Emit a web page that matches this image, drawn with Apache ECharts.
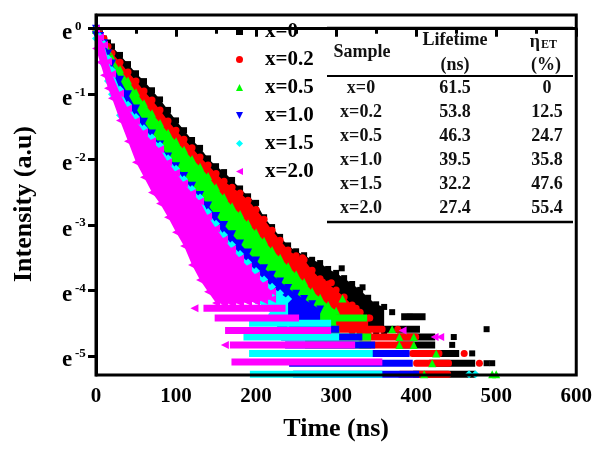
<!DOCTYPE html>
<html><head><meta charset="utf-8">
<script src="https://cdn.jsdelivr.net/npm/echarts@6/dist/echarts.min.js"></script>
<style>html,body{margin:0;padding:0;background:#fff}#c{width:595px;height:450px}</style>
</head><body><div id="c"></div><script>
// ---- time grid (ns) on which the cloud edges were read ----
const T = [0,5,10,15,20,30,40,50,60,70,80,90,100,110,120,130,140,150,160,170,180,190,200,210,220,230,240,250,260,270,280,290,300,310,320,330,340,350,360];

// ---- upper / lower edges of each decay cloud, ln(I) ----
const x0Upper  = [0,-0.07,-0.15,-0.21,-0.27,-0.40,-0.54,-0.68,-0.80,-0.94,-1.08,-1.24,-1.40,-1.55,-1.70,-1.82,-1.98,-2.10,-2.19,-2.31,-2.44,-2.56,-2.66,-2.88,-3.03,-3.18,-3.31,-3.40,-3.46,-3.53,-3.58,-3.67,-3.73,-3.81,-3.90,-3.99,-4.11,-4.21,-4.25];
const x0Lower  = [-0.02,-0.12,-0.28,-0.40,-0.50,-0.66,-0.82,-0.97,-1.12,-1.27,-1.42,-1.58,-1.72,-1.86,-1.99,-2.13,-2.26,-2.39,-2.51,-2.61,-2.71,-2.82,-2.96,-3.11,-3.27,-3.42,-3.57,-3.66,-3.74,-3.89,-4.01,-4.10,-4.19,-4.30,-4.41,-4.50,-4.58,-4.62,-4.64];
const x02Upper = [0,-0.08,-0.15,-0.27,-0.37,-0.51,-0.66,-0.80,-0.95,-1.09,-1.24,-1.41,-1.55,-1.69,-1.82,-1.96,-2.08,-2.21,-2.33,-2.42,-2.51,-2.62,-2.76,-2.91,-3.08,-3.23,-3.38,-3.47,-3.53,-3.69,-3.82,-3.90,-3.99,-4.10,-4.22,-4.33,-4.42];
const x02Lower = [-0.02,-0.14,-0.32,-0.48,-0.60,-0.80,-0.98,-1.16,-1.33,-1.49,-1.64,-1.79,-1.93,-2.06,-2.20,-2.33,-2.47,-2.64,-2.79,-2.93,-3.06,-3.20,-3.34,-3.47,-3.61,-3.73,-3.86,-3.98,-4.10,-4.23,-4.33,-4.43,-4.52,-4.58,-4.62,-4.65,-4.67];
const x05Upper = [0,-0.10,-0.21,-0.33,-0.44,-0.62,-0.79,-0.97,-1.14,-1.29,-1.44,-1.59,-1.72,-1.85,-1.99,-2.11,-2.25,-2.42,-2.57,-2.71,-2.83,-2.97,-3.11,-3.24,-3.38,-3.50,-3.63,-3.75,-3.87,-4.01,-4.11,-4.22,-4.31];
const x05Lower = [-0.02,-0.15,-0.38,-0.55,-0.70,-0.94,-1.15,-1.36,-1.55,-1.74,-1.93,-2.09,-2.24,-2.39,-2.54,-2.68,-2.82,-2.96,-3.10,-3.24,-3.38,-3.52,-3.64,-3.76,-3.88,-3.98,-4.09,-4.19,-4.29,-4.38,-4.46,-4.53,-4.58];
const x10Upper = [0,-0.11,-0.22,-0.38,-0.53,-0.78,-1.00,-1.22,-1.42,-1.60,-1.77,-1.95,-2.10,-2.25,-2.40,-2.54,-2.70,-2.86,-3.00,-3.14,-3.28,-3.42,-3.54,-3.66,-3.76,-3.86,-3.96,-4.05,-4.13,-4.21,-4.29];
const x10Lower = [-0.10,-0.12,-0.35,-0.62,-0.84,-1.16,-1.40,-1.60,-1.77,-1.92,-2.04,-2.25,-2.42,-2.58,-2.74,-2.88,-3.10,-3.28,-3.45,-3.59,-3.73,-3.86,-3.98,-4.10,-4.22,-4.31,-4.38,-4.44,-4.50,-4.55,-4.58];
const x15Upper = [0,-0.12,-0.23,-0.45,-0.63,-0.93,-1.16,-1.35,-1.52,-1.66,-1.78,-1.98,-2.14,-2.30,-2.45,-2.58,-2.80,-2.98,-3.15,-3.30,-3.44,-3.57,-3.70,-3.83,-3.94,-4.04,-4.13];
const x15Lower = [-0.15,-0.25,-0.55,-0.80,-1.00,-1.32,-1.56,-1.76,-1.93,-2.08,-2.20,-2.42,-2.58,-2.74,-2.90,-3.03,-3.27,-3.45,-3.62,-3.76,-3.90,-4.03,-4.15,-4.26,-4.36,-4.44,-4.50];
const x20Upper = [0,-0.13,-0.25,-0.50,-0.69,-0.99,-1.22,-1.41,-1.58,-1.72,-1.84,-2.04,-2.20,-2.36,-2.51,-2.64,-2.87,-3.05,-3.22,-3.37,-3.51,-3.64,-3.77,-3.90,-4.02];
const x20Lower = [-0.30,-0.51,-0.71,-0.91,-1.06,-1.40,-1.72,-2.04,-2.27,-2.50,-2.67,-2.88,-3.11,-3.32,-3.61,-3.84,-4.02,-4.19,-4.20,-4.20,-4.19,-4.18,-4.17,-4.15,-4.13];

// ---- low-count tail rows: [ln(I), t start, t end] ----
const x0Rows  = [[-4.40,385,408],[-4.59,360,401],[-4.71,380,420],[-4.83,380,420],[-4.96,400,450],[-5.11,420,470],[-5.28,400,470]];
const x02Rows = [[-4.59,290,358],[-4.71,330,400],[-4.83,330,395],[-4.96,395,429],[-5.11,400,441],[-5.28,380,440]];
const x05Rows = [[-4.42,265,335],[-4.59,255,300],[-4.71,265,340],[-4.83,265,340]];
const x10Rows = [[-4.59,230,300],[-4.71,235,329],[-4.83,240,345],[-4.96,240,388],[-5.11,245,392],[-5.28,250,400]];
const x15Rows = [[-4.50,195,290],[-4.71,188,300],[-4.96,195,342],[-5.28,196,354]];
const x20Rows = [[-4.27,138,233],[-4.42,152,250],[-4.61,165,290],[-4.83,171,320],[-5.09,173,354]];

// ---- isolated points: [t, ln(I)] ----
const x0Extra  = [[307,-3.66],[333,-3.95],[370,-4.33],[392,-4.40],[447,-4.71],[445,-4.83],[470,-4.96],[488,-4.59],[488,-5.11],[495,-5.11]];
const x02Extra = [[258,-3.50],[283,-3.87],[294,-3.88],[325,-4.27],[342,-4.42],[377,-4.59],[460,-4.96],[479,-5.11]];
const x05Extra = [[308,-4.12],[370,-4.59],[379,-4.71],[397,-4.71],[379,-4.83],[397,-4.83],[425,-4.96],[420,-5.11],[410,-5.28],[495,-5.28],[500,-5.28]];
const x10Extra = [];
const x15Extra = [[466,-5.28],[474,-5.28]];
const x20Extra = [[123,-4.27],[161,-4.83],[383,-4.61],[423,-4.71],[430,-4.71]];

// ---- table ----
const tableSample   = ['x=0','x=0.2','x=0.5','x=1.0','x=1.5','x=2.0'];
const tableLifetime = ['61.5','53.8','46.3','39.5','32.2','27.4'];
const tableEta      = ['0','12.5','24.7','35.8','47.6','55.4'];

// ---- axis ticks ----
const xTicks = [0,100,200,300,400,500,600];
const yTickPowers = [0,-1,-2,-3,-4,-5];

const FONT = '"Liberation Serif","Times New Roman",serif';
const groups = [
  {name:tableSample[0], color:'#000000', symbol:'rect', size:6, rot:0, up:x0Upper, lo:x0Lower, rows:x0Rows, extra:x0Extra, icon:'rect', r:0},
  {name:tableSample[1], color:'#ff0000', symbol:'circle', size:7, rot:0, up:x02Upper, lo:x02Lower, rows:x02Rows, extra:x02Extra, icon:'circle', r:3},
  {name:tableSample[2], color:'#00ff00', symbol:'triangle', size:8, rot:0, up:x05Upper, lo:x05Lower, rows:x05Rows, extra:x05Extra, icon:'triangle', r:0},
  {name:tableSample[3], color:'#0000ff', symbol:'triangle', size:8, rot:180, up:x10Upper, lo:x10Lower, rows:x10Rows, extra:x10Extra, icon:'path://M0,0L10,0L5,10Z', r:0},
  {name:tableSample[4], color:'#00ffff', symbol:'diamond', size:8, rot:0, up:x15Upper, lo:x15Lower, rows:x15Rows, extra:x15Extra, icon:'diamond', r:0},
  {name:tableSample[5], color:'#ff00ff', symbol:'triangle', size:8, rot:90, up:x20Upper, lo:x20Lower, rows:x20Rows, extra:x20Extra, icon:'path://M10,0L10,10L0,5Z', r:0}
];

const series = [];
groups.forEach((g, k) => {
  const up = g.up.map((v,i)=>[T[i], v]);
  const lo = g.lo.map((v,i)=>[T[i], v]);
  series.push({
    type:'custom', name:g.name+' rows', silent:true, z:3+2*k,
    data:g.rows.map(r=>[r[1], r[0], r[2]]), encode:{x:[0,2], y:1},
    renderItem:(params, api)=>{
      const a = api.coord([api.value(0), api.value(1)]);
      const b = api.coord([api.value(2), api.value(1)]);
      return {type:'rect', shape:{x:a[0]-3, y:a[1]-3.5, width:b[0]-a[0]+6, height:7, r:g.r}, style:{fill:g.color}};
    }
  });
  series.push({
    type:'scatter', name:g.name, silent:true, z:3+2*k,
    data:up.concat(lo, g.extra),
    symbol:g.symbol, symbolSize:g.size, symbolRotate:g.rot,
    itemStyle:{color:g.color, opacity:1}
  });
});

const graphic = [];
// table rules
graphic.push({type:'line', shape:{x1:327,y1:28,x2:573,y2:28}, style:{stroke:'#000', lineWidth:2.5}});
graphic.push({type:'line', shape:{x1:327,y1:76,x2:573,y2:76}, style:{stroke:'#000', lineWidth:2}});
graphic.push({type:'line', shape:{x1:327,y1:222,x2:573,y2:222}, style:{stroke:'#000', lineWidth:2.5}});
const tFont = 'bold 18px ' + FONT;
function txt(x,y,t,font,align){ return {type:'text', x:x, y:y, style:{text:t, font:font||tFont, fill:'#111', align:align||'center', verticalAlign:'middle'}}; }
graphic.push(txt(362,52,'Sample'));
graphic.push(txt(455,40,'Lifetime'));
graphic.push(txt(455,65,'(ns)'));
graphic.push(txt(540,42,'η',null,'right'));
graphic.push(txt(541,45,'ET','bold 12px '+FONT,'left'));
graphic.push(txt(546,65,'(%)'));
tableSample.forEach((s,i)=>{
  const y = 88 + i*24;
  graphic.push(txt(361,y,s));
  graphic.push(txt(455,y,tableLifetime[i]));
  graphic.push(txt(547,y,tableEta[i]));
});
// y axis name
graphic.push({type:'text', x:24, y:204, rotation:Math.PI/2, style:{text:'Intensity (a.u)', font:'bold 26px '+FONT, fill:'#000', align:'center', verticalAlign:'middle'}});

const chart = echarts.init(document.getElementById('c'));
chart.setOption({
  animation:false,
  backgroundColor:'#fff',
  grid:{left:96, right:18, top:15, bottom:75, show:true, borderColor:'#000', borderWidth:3, backgroundColor:'rgba(0,0,0,0)', z:30},
  legend:{
    orient:'vertical', left:231, top:16, itemWidth:7, itemHeight:7, itemGap:7, selectedMode:false,
    data:groups.map(g=>({name:g.name, icon:g.icon})),
    textStyle:{fontSize:21, fontWeight:'bold', fontFamily:FONT, color:'#000', lineHeight:21, padding:[0,0,0,17]}
  },
  xAxis:{
    type:'value', min:xTicks[0], max:xTicks[xTicks.length-1], interval:100, z:30,
    name:'Time (ns)', nameLocation:'middle', nameGap:41,
    nameTextStyle:{fontSize:26, fontWeight:'bold', fontFamily:FONT, color:'#000'},
    axisLine:{lineStyle:{color:'#000', width:3}},
    axisTick:{length:8, lineStyle:{color:'#000', width:3}},
    minorTick:{show:true, splitNumber:2, length:5, lineStyle:{color:'#000', width:3}},
    splitLine:{show:false}, minorSplitLine:{show:false},
    axisLabel:{fontSize:21, fontWeight:'bold', fontFamily:FONT, color:'#000', margin:11}
  },
  yAxis:[{
    type:'value', min:-5.29, max:0.21, z:30,
    axisLine:{lineStyle:{color:'#000', width:3}},
    axisTick:{customValues:yTickPowers, length:8, lineStyle:{color:'#000', width:3}},
    splitLine:{show:false},
    axisLabel:{customValues:yTickPowers, margin:34, align:'left', verticalAlign:'middle',
      formatter:()=>'{e|e}',
      rich:{e:{fontSize:23, fontWeight:'bold', fontFamily:FONT, color:'#000', padding:[9,0,0,0]}}}
  },{
    type:'value', min:-5.29, max:0.21, position:'left', z:30,
    axisLine:{show:false}, axisTick:{show:false}, splitLine:{show:false},
    axisLabel:{customValues:yTickPowers, margin:21, align:'left', verticalAlign:'middle',
      formatter:(v)=>'{s|' + Math.round(v) + '}',
      rich:{s:{fontSize:13, fontWeight:'bold', fontFamily:FONT, color:'#000', padding:[0,0,4,0]}}}
  }],
  graphic:{elements:graphic},
  series:series
});

// decay clouds: filled between the read upper and lower edges, placed through the chart's own axes
const toPx = (t, v) => chart.convertToPixel({xAxisIndex:0, yAxisIndex:0}, [t, v]);
const clouds = groups.map((g, k) => {
  const pts = g.up.map((v,i)=>toPx(T[i], v)).concat(g.lo.map((v,i)=>toPx(T[i], v)).reverse());
  return {type:'polygon', z:2+2*k, silent:true, shape:{points:pts}, style:{fill:g.color}};
});
chart.setOption({graphic:{elements:graphic.concat(clouds)}});
</script></body></html>
